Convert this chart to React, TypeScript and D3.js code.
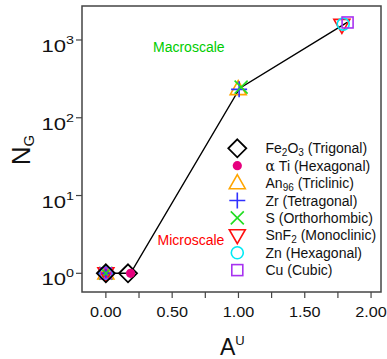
import React from "react";
import * as d3 from "d3";

// ---- data ----
const materials = ["Fe2O3", "aTi", "An96", "Zr", "S", "SnF2", "Zn", "Cu"];
const auValues = [
  [0, 0.167],
  [0, 0.186],
  [0, 0.998],
  [0, 1.005],
  [0, 1.02],
  [0, 1.78],
  [0, 1.79],
  [0, 1.823],
];
const ngValues = [
  [1, 1],
  [1, 1],
  [1, 234],
  [1, 232],
  [1, 248],
  [1, 1560],
  [1, 1600],
  [1, 1680],
];
const trendAU = [0, 0.167, 0.186, 1.01, 1.82];
const trendNG = [1, 1, 1, 240, 1680];
const xTicks = [0, 0.25, 0.5, 0.75, 1, 1.25, 1.5, 1.75, 2];
const xTickLabels = ["0.00", "", "0.50", "", "1.00", "", "1.50", "", "2.00"];
const yTicks = [1, 10, 100, 1000];
const yTickExps = ["0", "1", "2", "3"];

type MarkerType = "diamond" | "dot" | "triUp" | "plus" | "cross" | "triDown" | "circle" | "square";
const markerTypes: MarkerType[] = ["diamond", "dot", "triUp", "plus", "cross", "triDown", "circle", "square"];
const colors = ["#000000", "#e6007e", "#ffa500", "#3030ff", "#22dd22", "#ff1010", "#00eaf5", "#a733f0"];

const W = 387;
const H = 359;
const L = 82, R = 381, T = 6, B = 292;
const FONT = "'Liberation Sans', Arial, sans-serif";

const x = d3.scaleLinear().domain([-0.18, 2.075]).range([L, R]);
const y = d3.scaleLog().domain([0.575, 2735]).range([B, T]);

function Marker({ type, color, cx, cy }: { type: MarkerType; color: string; cx: number; cy: number }) {
  const sw = 1.6;
  switch (type) {
    case "diamond": {
      const h = 9;
      return <path d={`M${cx},${cy - h}L${cx + h},${cy}L${cx},${cy + h}L${cx - h},${cy}Z`} fill="none" stroke={color} strokeWidth={1.8} />;
    }
    case "dot":
      return <circle cx={cx} cy={cy} r={4.6} fill={color} />;
    case "triUp": {
      const w = 8, h = 14;
      return <path d={`M${cx},${cy - h * 0.6}L${cx + w},${cy + h * 0.4}L${cx - w},${cy + h * 0.4}Z`} fill="none" stroke={color} strokeWidth={sw} />;
    }
    case "triDown": {
      const w = 8, h = 14;
      return <path d={`M${cx},${cy + h * 0.6}L${cx + w},${cy - h * 0.4}L${cx - w},${cy - h * 0.4}Z`} fill="none" stroke={color} strokeWidth={sw} />;
    }
    case "plus": {
      const h = 8;
      return <path d={`M${cx - h},${cy}L${cx + h},${cy}M${cx},${cy - h}L${cx},${cy + h}`} fill="none" stroke={color} strokeWidth={sw} />;
    }
    case "cross": {
      const h = 6.5;
      return <path d={`M${cx - h},${cy - h}L${cx + h},${cy + h}M${cx - h},${cy + h}L${cx + h},${cy - h}`} fill="none" stroke={color} strokeWidth={sw} />;
    }
    case "circle":
      return <circle cx={cx} cy={cy} r={6} fill="none" stroke={color} strokeWidth={sw} />;
    case "square": {
      const h = 5.5;
      return <rect x={cx - h} y={cy - h} width={2 * h} height={2 * h} fill="none" stroke={color} strokeWidth={sw} />;
    }
  }
  return null;
}

function LegendLabel({ i }: { i: number }) {
  const sub = { fontSize: 10 } as React.CSSProperties;
  switch (i) {
    case 0:
      return (<>Fe<tspan dy={3} style={sub}>2</tspan><tspan dy={-3}>O</tspan><tspan dy={3} style={sub}>3</tspan><tspan dy={-3}> (Trigonal)</tspan></>);
    case 1:
      return (<><tspan fontFamily="'DejaVu Serif', serif">α</tspan> Ti (Hexagonal)</>);
    case 2:
      return (<>An<tspan dy={3} style={sub}>96</tspan><tspan dy={-3}> (Triclinic)</tspan></>);
    case 3:
      return <>Zr (Tetragonal)</>;
    case 4:
      return <>S (Orthorhombic)</>;
    case 5:
      return (<>SnF<tspan dy={3} style={sub}>2</tspan><tspan dy={-3}> (Monoclinic)</tspan></>);
    case 6:
      return <>Zn (Hexagonal)</>;
    case 7:
      return <>Cu (Cubic)</>;
  }
  return null;
}

export default function App() {
  const line = d3
    .line<number>()
    .x((_, i) => x(trendAU[i]))
    .y((_, i) => y(trendNG[i]));
  const axisColor = "#444";

  const order = [0, 1, 2, 3, 4, 5, 6, 7];

  return (
    <svg width={W} height={H} style={{ position: "absolute", left: 0, top: 0, background: "#fff" }} fontFamily={FONT}>
      <rect x={0} y={0} width={W} height={H} fill="#fff" />
      {/* ticks */}
      {xTicks.map((t, i) => (
        <g key={"xt" + i}>
          <line x1={x(t)} x2={x(t)} y1={B} y2={B + 6} stroke={axisColor} strokeWidth={1.2} />
          {xTickLabels[i] && (
            <text transform={`translate(${x(t)},317) scale(1.08,1)`} textAnchor="middle" fontSize={15} fill="#111">
              {xTickLabels[i]}
            </text>
          )}
        </g>
      ))}
      {yTicks.map((t, i) => (
        <g key={"yt" + i}>
          <line x1={L - 6} x2={L} y1={y(t)} y2={y(t)} stroke={axisColor} strokeWidth={1.2} />
          <text transform={`translate(74,${y(t) + 12}) scale(1.3,1)`} textAnchor="end" fontSize={17} fill="#111">
            10<tspan dy={-8} fontSize={11}>{yTickExps[i]}</tspan>
          </text>
        </g>
      ))}
      {/* trend line */}
      <path d={line(trendAU) || ""} fill="none" stroke="#000" strokeWidth={1.4} />
      {/* data markers */}
      {order.map((s) =>
        auValues[s].map((a, j) =>
          j === 0 ? null : (
            <Marker key={`m${s}-${j}`} type={markerTypes[s]} color={colors[s]} cx={x(a)} cy={y(ngValues[s][j])} />
          )
        )
      )}
      {order.slice(1).map((s) => (
        <Marker key={`z${s}`} type={markerTypes[s]} color={colors[s]} cx={x(auValues[s][0])} cy={y(ngValues[s][0])} />
      ))}
      <Marker type="diamond" color={colors[0]} cx={x(auValues[0][0])} cy={y(ngValues[0][0])} />
      {/* annotations */}
      <text x={153} y={52} fontSize={14} fill="#00cc00">Macroscale</text>
      <text x={157.5} y={245} fontSize={14} fill="#ff0000">Microscale</text>
      {/* legend */}
      {materials.map((m, i) => {
        const cy = 148.3 + i * 17.4;
        return (
          <g key={"lg" + m}>
            <Marker type={markerTypes[i]} color={colors[i]} cx={237.3} cy={cy} />
            <text x={265.5} y={cy + 5} fontSize={14} fill="#111">
              <LegendLabel i={i} />
            </text>
          </g>
        );
      })}
      {/* frame */}
      <rect x={L} y={T} width={R - L} height={B - T} fill="none" stroke={axisColor} strokeWidth={1.5} />
      {/* axis titles */}
      <text x={220} y={355} fontSize={23} fill="#111">
        A<tspan dy={-10} fontSize={13}>U</tspan>
      </text>
      <text transform={`translate(30,150) rotate(-90)`} textAnchor="middle" fontSize={26} fill="#111">
        N<tspan dy={4} fontSize={15}>G</tspan>
      </text>
    </svg>
  );
}
